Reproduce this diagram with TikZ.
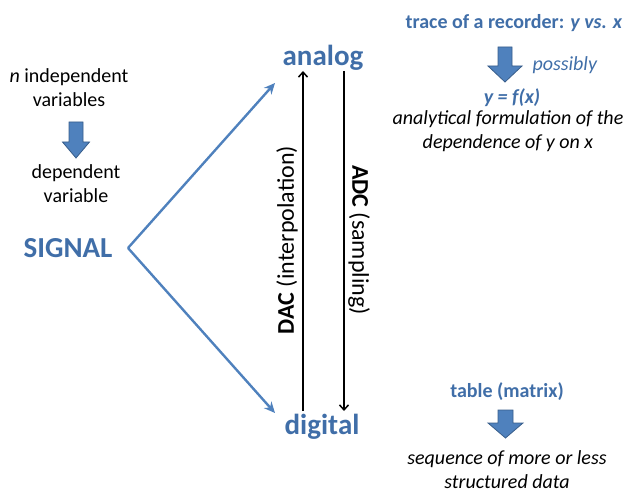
\documentclass[tikz,border=0pt]{standalone}
\usepackage{fontspec}
\setmainfont{Carlito}
\usetikzlibrary{arrows.meta}
\definecolor{txtblue}{RGB}{64,110,168}
\definecolor{lineblue}{RGB}{79,129,189}
\definecolor{arrowedge}{RGB}{56,93,138}
\tikzset{
  lbl/.style={font=\fontsize{20}{24}\selectfont, align=center, inner sep=0pt},
  rlbl/.style={font=\fontsize{24}{28}\selectfont, inner sep=0pt},
  big/.style={font=\fontsize{29}{32}\selectfont\bfseries, text=txtblue, inner sep=0pt},
  bluehead/.style={font=\fontsize{20}{24}\selectfont\bfseries, text=txtblue, inner sep=0pt},
  conn/.style={draw=lineblue, line width=2.4pt, -{Stealth[length=11pt,width=10pt]}},
  conv/.style={draw=black, line width=1.5pt, -{Straight Barb[length=5pt,width=9pt]}},
  blockarr/.style={fill=lineblue, draw=arrowedge, line width=0.8pt}
}
\begin{document}
\begin{tikzpicture}[x=1pt,y=-1pt]
\useasboundingbox (0,0) rectangle (633,495);
% left column
\node[lbl] (indep) at (69,88) {\textit{n} independent\\variables};
\draw[blockarr] (69,122) -- (83,122) -- (83,142) -- (89.5,142) -- (76,158) -- (62.5,142) -- (69,142) -- cycle;
\node[lbl] (dep) at (76,184) {dependent\\variable};
\node[big] (signal) at (68,248) {SIGNAL};
\coordinate (v) at (128,248);
% analog / digital
\node[big] (analog) at (323,58) {analog};
\node[big] (digital) at (322,427) {digital};
\draw[conn] (v) -- (275,83);
\draw[conn] (v) -- (275,413);
\coordinate (dacB) at (303,411);
\coordinate (dacT) at (303,71);
\coordinate (adcT) at (344,71);
\coordinate (adcB) at (344,411);
\draw[conv] (dacB) -- (dacT);
\draw[conv] (adcT) -- (adcB);
\node[rlbl, rotate=90] (dac) at (287,240) {\textbf{DAC} (interpolation)};
\node[rlbl, rotate=-90] (adc) at (359,240) {\textbf{ADC} (sampling)};
% right column top
\node[bluehead] (trace) at (514,23) {trace of a recorder: \textit{y vs. x}};
\draw[blockarr] (498,47) -- (512,47) -- (512,66) -- (522,66) -- (505,82) -- (488,66) -- (498,66) -- cycle;
\node[lbl, text=txtblue] (poss) at (565,65) {\textit{possibly}};
\node[bluehead] (fx) at (512,98) {\textit{y = f(x)}};
\node[lbl] (anal) at (508,131) {\textit{analytical formulation of the}\\\textit{dependence of y on x}};
% right column bottom
\node[bluehead] (table) at (507,392) {table (matrix)};
\draw[blockarr] (498,410) -- (513,410) -- (513,423) -- (523,423) -- (505.5,438) -- (488,423) -- (498,423) -- cycle;
\node[lbl] (seq) at (507,470) {\textit{sequence of more or less}\\\textit{structured data}};
\end{tikzpicture}
\end{document}
